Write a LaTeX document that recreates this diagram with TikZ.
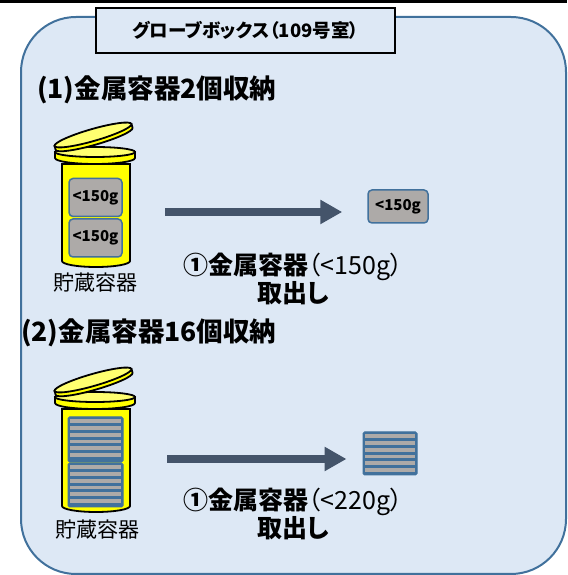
\documentclass[tikz,border=0pt]{standalone}
\usepackage{fontspec}
\usepackage{tikz}
\usetikzlibrary{arrows.meta}
\newfontfamily\jp[RawFeature=+palt]{Noto Sans CJK JP}
\definecolor{frameblue}{HTML}{41719C}
\definecolor{panel}{HTML}{DDE8F5}
\definecolor{arrowgray}{HTML}{44546A}
\definecolor{canyellow}{HTML}{FFFF00}
\definecolor{lidyellow}{HTML}{FFFF70}
\definecolor{pellet}{HTML}{ADAAA8}
\tikzstyle{Room}=[draw=frameblue, fill=panel, line width=2pt, rounded corners=55pt]
\tikzstyle{Title}=[rectangle, draw=black, fill=panel, line width=1.2pt, minimum width=299, minimum height=45, font=\jp\bfseries\fontsize{18.5}{20}\selectfont]
\tikzstyle{Heading}=[anchor=west, inner sep=0, font=\jp\bfseries\fontsize{26.5}{28}\selectfont]
\tikzstyle{Label}=[inner sep=0, font=\jp\fontsize{21}{24}\selectfont]
\tikzstyle{Caption}=[inner sep=0, align=center, font=\jp\fontsize{25}{28}\selectfont]
\tikzstyle{Can}=[draw=black, fill=canyellow, line width=1.8pt]
\tikzstyle{Sample}=[rectangle, rounded corners=4pt, draw=frameblue, line width=1.5pt, fill=pellet, inner sep=0, font=\jp\bfseries\fontsize{15}{15}\selectfont]
\tikzstyle{Stack}=[rectangle, rounded corners=1.5pt, draw=frameblue, fill=frameblue, line width=1pt, inner sep=0]
\tikzstyle{Move}=[line width=8pt, draw=arrowgray, -{Triangle[length=22pt,width=23pt]}]

\begin{document}
\begin{tikzpicture}[x=1pt, y=1pt]
    \useasboundingbox (0,0) rectangle (567,575);
    \draw[line width=2.5pt] (0,573.5) -- (567,573.5);
    \draw[Room] (21,1) rectangle (566,558);

    % storage cans, the second one shifted down
    \foreach \dy in {0,245}{
      \begin{scope}[yshift=-\dy pt]
        \draw[Can] (62,411) -- (62,314) arc[start angle=180, end angle=360, x radius=34, y radius=6] -- (130,411) -- cycle;
        \draw[Can] (55,423) -- (55,417) arc[start angle=180, end angle=360, x radius=40, y radius=6] -- (135,423) -- cycle;
        \draw[Can, fill=lidyellow] (95,423) ellipse[x radius=40, y radius=5];
        \begin{scope}[shift={(93,440)}, rotate=16]
          \draw[Can] (-40,0) -- (-40,-4) arc[start angle=180, end angle=360, x radius=40, y radius=6] -- (40,0) -- cycle;
          \draw[Can, fill=lidyellow] (0,0) ellipse[x radius=40, y radius=6];
        \end{scope}
      \end{scope}
    }

    \path
    (245.5,544.5) node[Title] (title) {グローブボックス（109号室）}
    (37,485) node[Heading] (case1) {(1)金属容器2個収納}
    (21,242) node[Heading] (case2) {(2)金属容器16個収納}
    (95,292) node[Label] (can1) {貯蔵容器}
    (97,45) node[Label] (can2) {貯蔵容器};

    \path
    (95.5,377.5) node[Sample, minimum width=53, minimum height=38] (in1a) {<150g}
    (95.5,337) node[Sample, minimum width=53, minimum height=38] (in1b) {<150g}
    (398,368.5) node[Sample, minimum width=60, minimum height=33] (out1) {<150g}
    (95.5,135.5) node[Stack, minimum width=55, minimum height=45] (in2a) {}
    (95.5,90) node[Stack, minimum width=55, minimum height=44] (in2b) {}
    (390,121.5) node[Stack, minimum width=54, minimum height=43] (out2) {};

    % grey plates inside each stack
    \foreach \s in {in2a,in2b,out2}
      \foreach \k in {0,...,5}
        \fill[pellet] ([xshift=2.5pt, yshift={-3pt-\k*6.75pt}]\s.north west) rectangle ([xshift=-2.5pt, yshift={-6.7pt-\k*6.75pt}]\s.north east);

    \coordinate (from1) at (165,363);
    \coordinate (from2) at (167,116);
    \draw[Move, shorten >=25pt] (from1) -- (from1 -| out1.west);
    \draw[Move, shorten >=16pt] (from2) -- (from2 -| out2.west);

    \path
    (293,296) node[Caption] (take1) {{\bfseries ①金属容器}（<150g）\\{\bfseries 取出し}}
    (293,61) node[Caption] (take2) {{\bfseries ①金属容器}（<220g）\\{\bfseries 取出し}};
\end{tikzpicture}
\end{document}
